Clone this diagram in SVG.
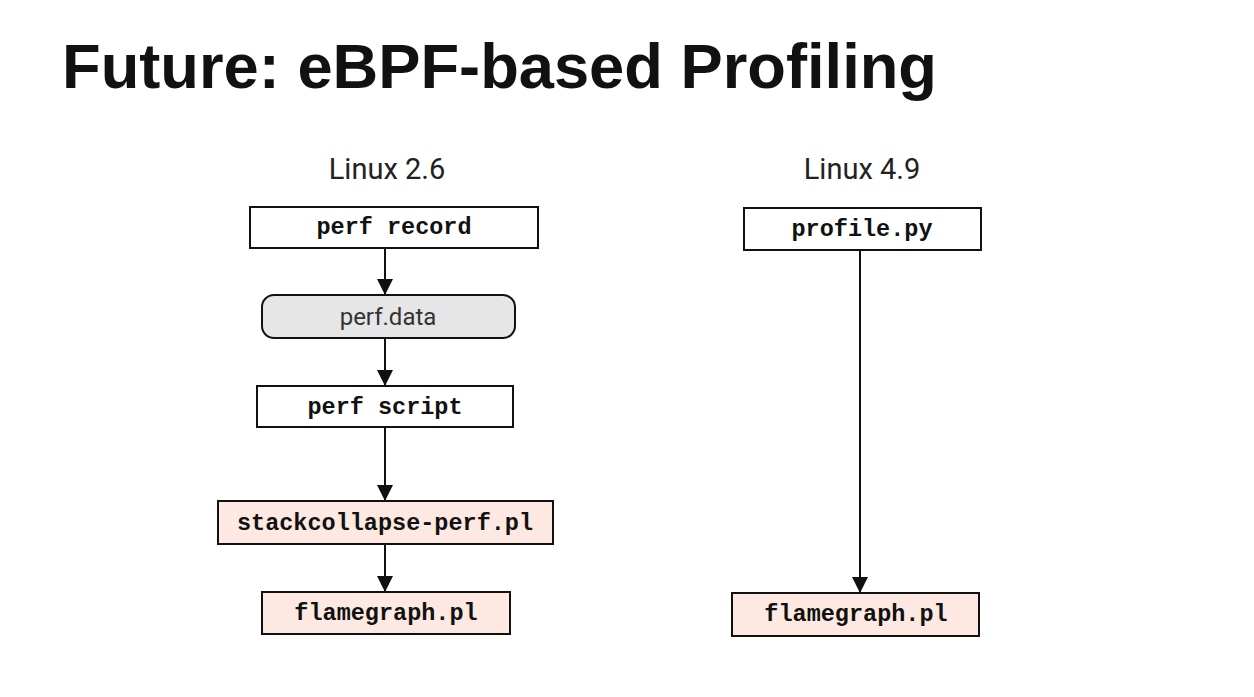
<svg xmlns="http://www.w3.org/2000/svg" width="1254" height="697" viewBox="0 0 1254 697">
<style>
.title{font-family:"Liberation Sans",Arial,sans-serif;font-weight:bold;font-size:63px;fill:#111}
.hdr{font-family:"Roboto","Liberation Sans",sans-serif;font-size:29px;fill:#222}
.box{fill:#fff;stroke:#111;stroke-width:2}
.data{fill:#e6e6e6;stroke:#111;stroke-width:2}
.pl{fill:#fde9e1;stroke:#111;stroke-width:2}
.mono{font-family:"Liberation Mono","Courier New",monospace;font-weight:bold;font-size:23.5px;fill:#111;text-anchor:middle}
.sans{font-family:"Roboto","Liberation Sans",sans-serif;font-size:24px;fill:#333;text-anchor:middle}
.conn{stroke:#111;stroke-width:2;fill:none;marker-end:url(#ah)}
</style>
<defs>
<marker id="ah" viewBox="0 0 10 10" refX="10" refY="5" markerWidth="9" markerHeight="8" markerUnits="strokeWidth" orient="auto">
<path d="M0,0 L10,5 L0,10 Z" fill="#111"/>
</marker>
</defs>
<rect width="1254" height="697" fill="#fff"/>
<text class="title" x="62" y="88" textLength="875" lengthAdjust="spacingAndGlyphs">Future: eBPF-based Profiling</text>
<text class="hdr" x="387" y="179" text-anchor="middle">Linux 2.6</text>
<text class="hdr" x="862" y="179" text-anchor="middle">Linux 4.9</text>
<g id="connectors">
<line class="conn" x1="385" y1="248" x2="385" y2="295"/>
<line class="conn" x1="385" y1="338" x2="385" y2="386"/>
<line class="conn" x1="385" y1="427" x2="385" y2="501"/>
<line class="conn" x1="385" y1="544" x2="385" y2="592"/>
<line class="conn" x1="860" y1="250" x2="860" y2="593"/>
</g>
<g id="perf-record"><rect class="box" x="250" y="207" width="288" height="41"/><text class="mono" x="394" y="234">perf record</text></g>
<g id="perf-data"><rect class="data" x="262" y="295" width="253" height="43" rx="12"/><text class="sans" x="388" y="325">perf.data</text></g>
<g id="perf-script"><rect class="box" x="257" y="386" width="256" height="41"/><text class="mono" x="385" y="414">perf script</text></g>
<g id="stackcollapse"><rect class="pl" x="218" y="501" width="335" height="43"/><text class="mono" x="385" y="530">stackcollapse-perf.pl</text></g>
<g id="flamegraph-left"><rect class="pl" x="262" y="592" width="248" height="42"/><text class="mono" x="386" y="620">flamegraph.pl</text></g>
<g id="profile-py"><rect class="box" x="744" y="208" width="237" height="42"/><text class="mono" x="862" y="236">profile.py</text></g>
<g id="flamegraph-right"><rect class="pl" x="732" y="593" width="247" height="43"/><text class="mono" x="856" y="621">flamegraph.pl</text></g>
</svg>
